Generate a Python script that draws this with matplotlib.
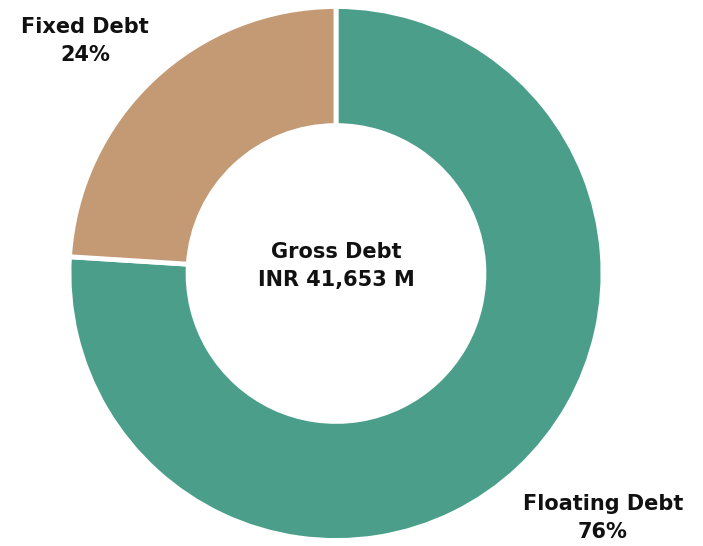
import matplotlib
matplotlib.use("Agg")
import matplotlib.pyplot as plt

categories = ["Floating Debt", "Fixed Debt"]
shares = [76, 24]
colors = ["#4b9f8a", "#c49a74"]
center_title = "Gross Debt"
center_value = "INR 41,653 M"

W, H = 703, 546
fig = plt.figure(figsize=(W / 100, H / 100), dpi=100)
ax = fig.add_axes([0, 0, 1, 1])

cx, cy, R = 336, H - 273.5, 267
ax.pie(shares, colors=colors, startangle=90, counterclock=False,
       center=(cx, cy), radius=R,
       wedgeprops=dict(width=R * 0.446, edgecolor="white", linewidth=3.5),
       frame=True)
ax.set_xlim(0, W)
ax.set_ylim(0, H)
ax.set_aspect("equal")
ax.axis("off")

fs = 15
ls = 1.55
ax.text(cx, H - 266, f"{center_title}\n{center_value}", ha="center", va="center",
        fontsize=fs, fontweight="bold", linespacing=ls, color="#111111")
ax.text(85, H - 41, f"{categories[1]}\n{shares[1]}%", ha="center", va="center",
        fontsize=fs, fontweight="bold", linespacing=ls, color="#111111")
ax.text(603, H - 518, f"{categories[0]}\n{shares[0]}%", ha="center", va="center",
        fontsize=fs, fontweight="bold", linespacing=ls, color="#111111")

fig.savefig("out.png", dpi=100)
